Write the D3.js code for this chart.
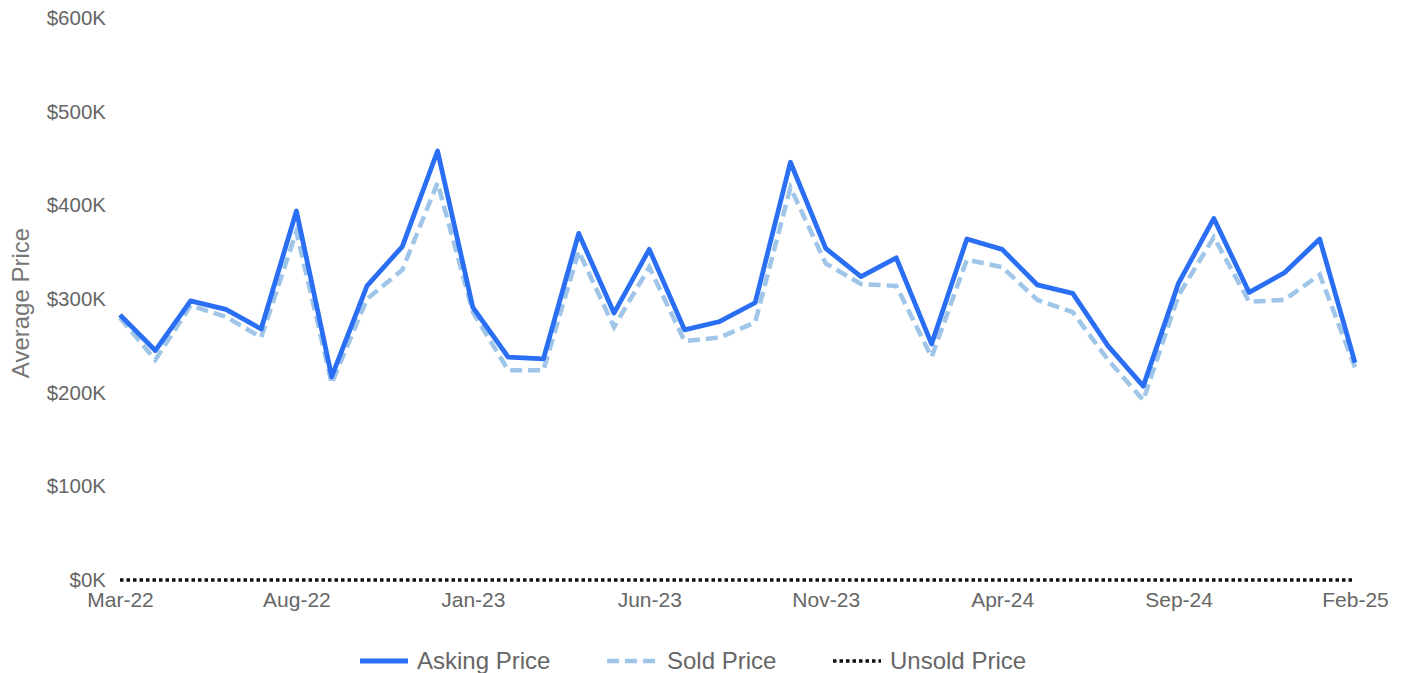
<!DOCTYPE html>
<html>
<head>
<meta charset="utf-8">
<script src="https://cdn.jsdelivr.net/npm/d3@7"></script>
<style>
  body { margin: 0; background: #fff; }
  svg text { font-family: "Liberation Sans", Arial, sans-serif; }
</style>
</head>
<body>
<svg id="chart" width="1408" height="673"></svg>
<script>
var months = ["Mar-22","Apr-22","May-22","Jun-22","Jul-22","Aug-22","Sep-22","Oct-22","Nov-22","Dec-22",
              "Jan-23","Feb-23","Mar-23","Apr-23","May-23","Jun-23","Jul-23","Aug-23","Sep-23","Oct-23",
              "Nov-23","Dec-23","Jan-24","Feb-24","Mar-24","Apr-24","May-24","Jun-24","Jul-24","Aug-24",
              "Sep-24","Oct-24","Nov-24","Dec-24","Jan-25","Feb-25"];

var askingPrice = [283000,245000,298000,289000,268000,394000,217000,314000,356000,458000,
                   291000,238000,236000,370000,285000,353000,267000,276000,296000,446000,
                   354000,324000,344000,252000,364000,353000,315000,306000,250000,207000,
                   317000,386000,307000,328000,364000,232000];

var soldPrice = [280000,235000,293000,281000,259000,372000,210000,300000,331000,424000,
                 286000,224000,224000,351000,270000,334000,255000,259000,275000,419000,
                 338000,316000,314000,238000,342000,334000,299000,286000,235000,192000,
                 304000,366000,297000,299000,326000,227000];

var unsoldPrice = [0,0,0,0,0,0,0,0,0,0,0,0,0,0,0,0,0,0,0,0,0,0,0,0,0,0,0,0,0,0,0,0,0,0,0,0];

var yTicks = [0,100000,200000,300000,400000,500000,600000];
var xTicks = ["Mar-22","Aug-22","Jan-23","Jun-23","Nov-23","Apr-24","Sep-24","Feb-25"];

var svg = d3.select("#chart");

var x = d3.scalePoint().domain(months).range([120, 1355]);
var y = d3.scaleLinear().domain([0, 600000]).range([580, 18]);

// y axis
var yAxis = svg.append("g")
    .attr("transform", "translate(106,0)")
    .call(d3.axisLeft(y).tickValues(yTicks).tickSize(0).tickPadding(0)
        .tickFormat(function(d) { return "$" + (d / 1000) + "K"; }));
yAxis.select(".domain").remove();
yAxis.selectAll("text")
    .attr("fill", "#666")
    .style("font-size", "20.5px");

// x axis
var xAxis = svg.append("g")
    .attr("transform", "translate(0,592)")
    .call(d3.axisBottom(x).tickValues(xTicks).tickSize(0).tickPadding(0));
xAxis.select(".domain").remove();
xAxis.selectAll("text")
    .attr("fill", "#666")
    .attr("dy", "0.71em")
    .style("font-size", "21px");

// axis title
svg.append("text")
    .attr("transform", "translate(29,303) rotate(-90)")
    .attr("text-anchor", "middle")
    .attr("fill", "#777")
    .style("font-size", "24px")
    .text("Average Price");

var line = function(vals) {
    return d3.line()
        .x(function(d, i) { return x(months[i]); })
        .y(function(d) { return y(d); })(vals);
};

// unsold (all zero) dotted line
svg.append("path")
    .attr("d", line(unsoldPrice))
    .attr("fill", "none")
    .attr("stroke", "#111")
    .attr("stroke-width", 3.5)
    .attr("stroke-dasharray", "3.5,3");

// sold price dashed
svg.append("path")
    .attr("d", line(soldPrice))
    .attr("fill", "none")
    .attr("stroke", "#9fc5e8")
    .attr("stroke-width", 4.5)
    .attr("stroke-dasharray", "12,6");

// asking price
svg.append("path")
    .attr("d", line(askingPrice))
    .attr("fill", "none")
    .attr("stroke", "#2a6ff3")
    .attr("stroke-width", 4.8)
    .attr("stroke-linejoin", "round");

// legend
var legendItems = [
    {name: "Asking Price", color: "#2a6ff3", dash: null, width: 4.8, x: 360},
    {name: "Sold Price", color: "#9fc5e8", dash: "12,6", width: 4.5, x: 607},
    {name: "Unsold Price", color: "#111", dash: "3.5,3", width: 3.5, x: 833}
];

var legend = svg.append("g").selectAll("g")
    .data(legendItems)
    .enter().append("g")
    .attr("transform", function(d) { return "translate(" + d.x + ",661)"; });

legend.append("line")
    .attr("x1", 0).attr("x2", 48)
    .attr("stroke", function(d) { return d.color; })
    .attr("stroke-width", function(d) { return d.width; })
    .attr("stroke-dasharray", function(d) { return d.dash; });

legend.append("text")
    .attr("x", function(d, i) { return i == 1 ? 60 : 57; })
    .attr("dy", "0.35em")
    .attr("fill", "#666")
    .style("font-size", "24px")
    .text(function(d) { return d.name; });
</script>
</body>
</html>
